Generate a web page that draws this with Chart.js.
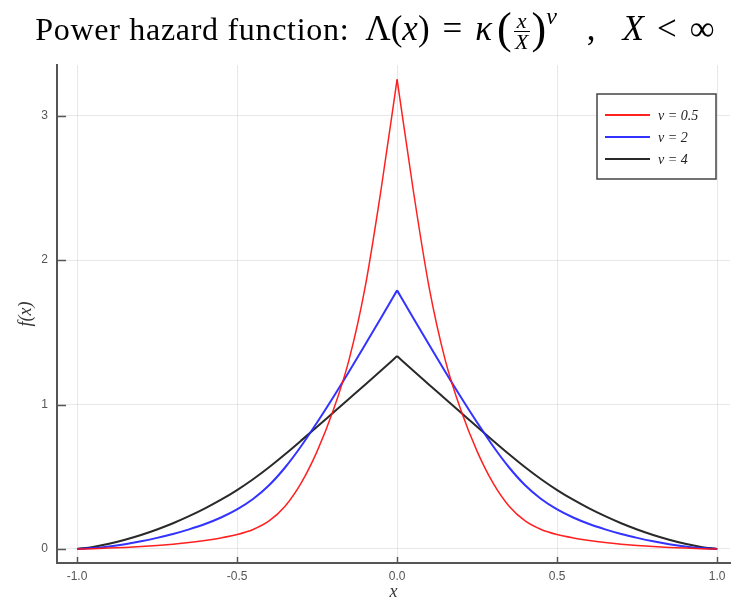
<!DOCTYPE html>
<html>
<head>
<meta charset="utf-8">
<script src="https://cdn.jsdelivr.net/npm/chart.js@4.4.1/dist/chart.umd.min.js"></script>
<style>
  html, body { margin: 0; padding: 0; background: #fff; }
  #wrap { position: relative; width: 732px; height: 603px; }
  #title {
    position: absolute; left: 9px; top: -11px; width: 732px; height: 60px;
    text-align: center; font-family: 'Liberation Serif', serif; font-size: 35px;
    line-height: 54px; color: #000; white-space: nowrap;
  }
  #title .txt { font-size: 32px; letter-spacing: 0.7px; margin-right: 16px; }
  #title .op { margin: 0 13px; }
  #title .sep { margin: 0 27px 0 30px; }
  .frac { display: inline-flex; flex-direction: column; vertical-align: middle; font-size: 22px; line-height: 20px; text-align: center; margin: 0 2px; }
  .frac .num { border-bottom: 1px solid #000; padding: 0 3px; }
  .big { font-size: 44px; vertical-align: -3px; margin-left: 5px; }
  #title sup { font-size: 24px; vertical-align: 16px; }
  canvas { position: absolute; left: 0; top: 0; }
</style>
</head>
<body>
<div id="wrap">
  <canvas id="chart" width="732" height="603"></canvas>
  <div id="title"><span class="txt">Power hazard function:</span>Λ(<i>x</i>)<span class="op">=</span><i>κ</i><span class="big">(</span><span class="frac"><span class="num"><i>x</i></span><span><i>X</i></span></span><span class="big" style="margin-left:0">)</span><sup><i>ν</i></sup><span class="sep">,</span><i>X</i><span class="op">&lt;</span>∞</div>
</div>
<script>
const xValues = [
  -1.0, -0.95, -0.9, -0.85, -0.8, -0.75, -0.7, -0.65, -0.6, -0.55, -0.5,
  -0.45, -0.4, -0.35, -0.3, -0.25, -0.2, -0.15, -0.1, -0.05, 0.0,
  0.05, 0.1, 0.15, 0.2, 0.25, 0.3, 0.35, 0.4, 0.45, 0.5,
  0.55, 0.6, 0.65, 0.7, 0.75, 0.8, 0.85, 0.9, 0.95, 1.0
];

const seriesLabels = ['ν = 0.5', 'ν = 2', 'ν = 4'];
const seriesColors = ['rgba(255,20,20,0.95)', 'rgba(40,40,255,0.95)', 'rgba(30,30,30,0.95)'];

const nuHalf = [
  0, 0.002, 0.006, 0.011, 0.017, 0.0245, 0.0335, 0.0445, 0.0585, 0.0765, 0.1,
  0.135, 0.194, 0.296, 0.456, 0.676, 0.956, 1.311, 1.811, 2.49, 3.25,
  2.49, 1.811, 1.311, 0.956, 0.676, 0.456, 0.296, 0.194, 0.135, 0.1,
  0.0765, 0.0585, 0.0445, 0.0335, 0.0245, 0.017, 0.011, 0.006, 0.002, 0
];

const nuTwo = [
  0, 0.006, 0.017, 0.033, 0.053, 0.077, 0.104, 0.136, 0.173, 0.218, 0.274,
  0.346, 0.441, 0.564, 0.711, 0.876, 1.049, 1.229, 1.414, 1.601, 1.79,
  1.601, 1.414, 1.229, 1.049, 0.876, 0.711, 0.564, 0.441, 0.346, 0.274,
  0.218, 0.173, 0.136, 0.104, 0.077, 0.053, 0.033, 0.017, 0.006, 0
];

const nuFour = [
  0, 0.014, 0.036, 0.064, 0.097, 0.135, 0.178, 0.227, 0.281, 0.341, 0.408,
  0.483, 0.566, 0.656, 0.75, 0.846, 0.943, 1.04, 1.137, 1.235, 1.335,
  1.235, 1.137, 1.04, 0.943, 0.846, 0.75, 0.656, 0.566, 0.483, 0.408,
  0.341, 0.281, 0.227, 0.178, 0.135, 0.097, 0.064, 0.036, 0.014, 0
];

const xTicks = [-1, -0.5, 0, 0.5, 1];
const xTickLabels = ['-1.0', '-0.5', '0.0', '0.5', '1.0'];
const yTicks = [0, 1, 2, 3];
const yTickLabels = ['0', '1', '2', '3'];

// each curve is split at the peak so the smoothing keeps the sharp corner at x = 0
const peak = xValues.indexOf(0);
const half = (ys, from, to) => ys.slice(from, to + 1).map((y, i) => ({ x: xValues[from + i], y }));

const datasets = [];
[nuHalf, nuTwo, nuFour].forEach((ys, k) => {
  const style = { label: seriesLabels[k], borderColor: seriesColors[k], borderWidth: k === 0 ? 1.5 : 2 };
  datasets.push({ ...style, data: half(ys, 0, peak) });
  datasets.push({ ...style, data: half(ys, peak, ys.length - 1) });
});

// small tick marks pointing into the plot, plus the boxed legend
const frameExtras = {
  id: 'frameExtras',
  afterDraw(chart) {
    const { ctx, scales: { x, y } } = chart;
    ctx.save();
    ctx.strokeStyle = '#555';
    ctx.lineWidth = 1.5;
    yTicks.forEach(v => {
      const py = Math.round(y.getPixelForValue(v)) + 0.5;
      ctx.beginPath(); ctx.moveTo(y.right, py); ctx.lineTo(y.right + 9, py); ctx.stroke();
    });
    xTicks.forEach(v => {
      const px = Math.round(x.getPixelForValue(v)) + 0.5;
      ctx.beginPath(); ctx.moveTo(px, x.top); ctx.lineTo(px, x.top - 6); ctx.stroke();
    });

    const bx = 597, by = 94, bw = 119, bh = 85;
    ctx.fillStyle = '#fff';
    ctx.fillRect(bx, by, bw, bh);
    ctx.strokeStyle = '#444';
    ctx.lineWidth = 1.5;
    ctx.strokeRect(bx, by, bw, bh);
    seriesLabels.forEach((label, i) => {
      const ly = by + 21 + i * 22;
      ctx.strokeStyle = seriesColors[i];
      ctx.lineWidth = 2;
      ctx.beginPath(); ctx.moveTo(bx + 8, ly); ctx.lineTo(bx + 53, ly); ctx.stroke();
      ctx.fillStyle = '#222';
      ctx.font = 'italic 14px "Liberation Serif"';
      ctx.textBaseline = 'middle';
      ctx.fillText(label, bx + 61, ly + 1);
    });
    ctx.restore();
  }
};

new Chart(document.getElementById('chart'), {
  type: 'line',
  data: { datasets },
  options: {
    responsive: false,
    animation: false,
    layout: { padding: { top: 65, right: 2, left: 0, bottom: 0 } },
    elements: { point: { radius: 0 }, line: { cubicInterpolationMode: 'monotone' } },
    plugins: { legend: { display: false }, tooltip: { enabled: false } },
    scales: {
      x: {
        type: 'linear',
        min: -1.0625,
        max: 1.04,
        afterBuildTicks: s => { s.ticks = xTicks.map(v => ({ value: v })); },
        afterFit: s => { s.height = 40; },
        ticks: {
          callback: (v, i) => xTickLabels[i],
          color: '#555',
          font: { family: 'Liberation Sans', size: 12 },
          padding: 6,
          maxRotation: 0,
          autoSkip: false
        },
        grid: { color: 'rgba(0,0,0,0.09)', drawTicks: false },
        border: { color: '#555', width: 2 },
        title: {
          display: true, text: 'x', color: '#333', padding: 0,
          font: { family: 'Liberation Serif', style: 'italic', size: 18 }
        }
      },
      y: {
        type: 'linear',
        min: -0.097,
        max: 3.35,
        afterBuildTicks: s => { s.ticks = yTicks.map(v => ({ value: v })); },
        afterFit: s => { s.width = 57; },
        ticks: {
          callback: (v, i) => yTickLabels[i],
          color: '#555',
          font: { family: 'Liberation Sans', size: 12 },
          padding: 9
        },
        grid: { color: 'rgba(0,0,0,0.09)', drawTicks: false },
        border: { color: '#555', width: 2 },
        title: {
          display: true, text: 'f(x)', color: '#333', padding: { top: 15, bottom: 0 },
          font: { family: 'Liberation Serif', style: 'italic', size: 18 }
        }
      }
    }
  },
  plugins: [frameExtras]
});
</script>
</body>
</html>
